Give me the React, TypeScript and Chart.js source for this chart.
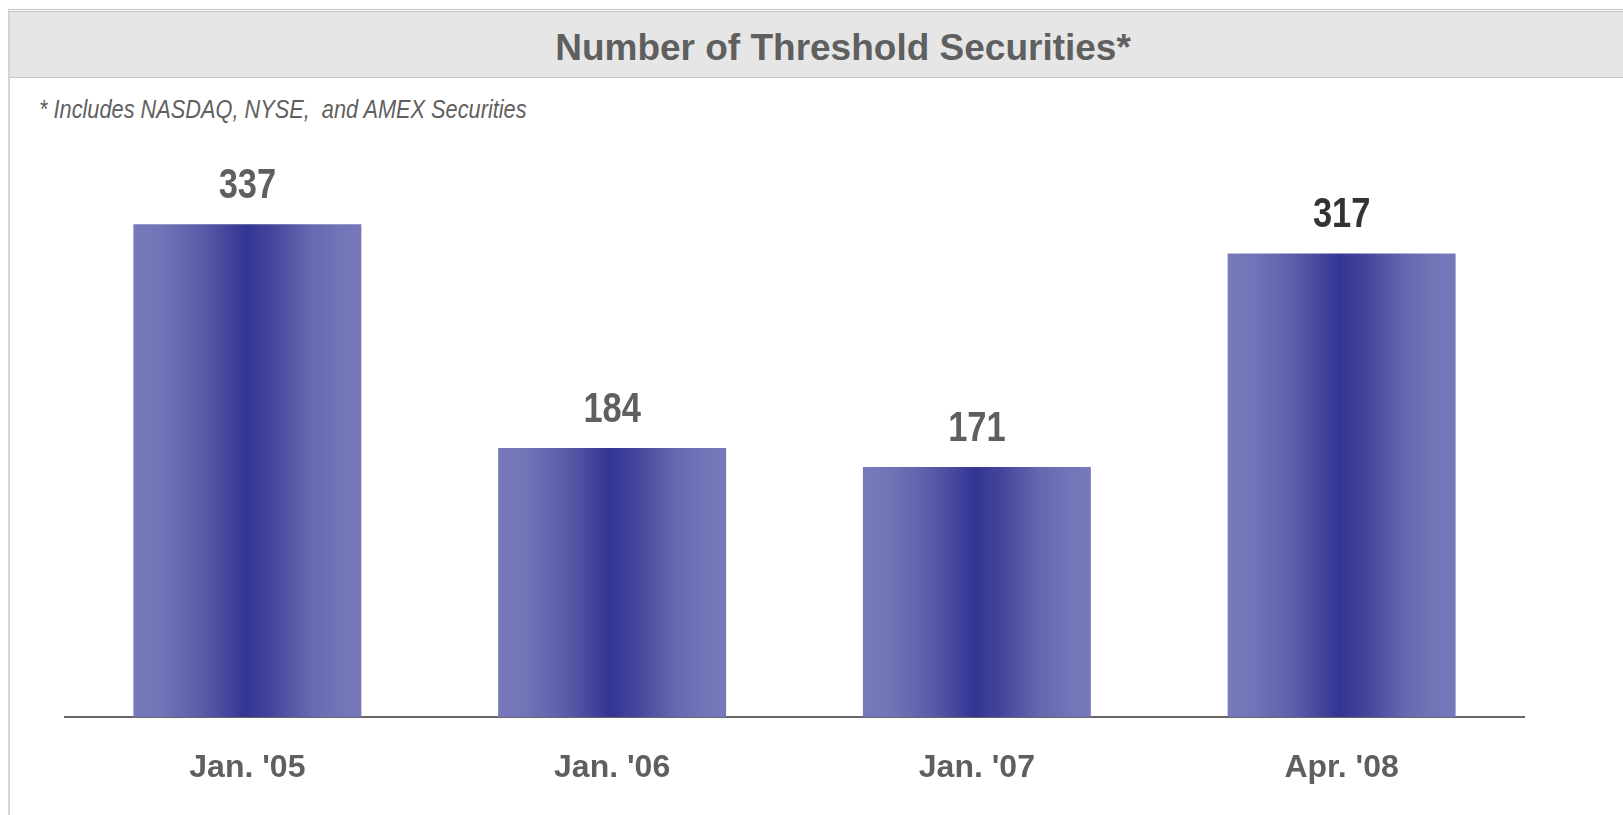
import React, { useEffect, useRef } from "react";
import { Chart, registerables } from "chart.js";

Chart.register(...registerables);

const categories: string[] = ["Jan. '05", "Jan. '06", "Jan. '07", "Apr. '08"];
const thresholdCounts: number[] = [337, 184, 171, 317];
const valueLabelColors: string[] = ["#5f5f5f", "#5f5f5f", "#5f5f5f", "#333333"];
const titleText = "Number of Threshold Securities*";
const subtitleText = "* Includes NASDAQ, NYSE,  and AMEX Securities";

const SANS = "'Liberation Sans', Arial, sans-serif";
const BAR_PCT = 0.625;
const NARROW_SCALE = 0.82;
const SUBTITLE_SCALE = 0.87;

const gradientStops: [number, string][] = [
  [0, "#7779bb"],
  [0.12, "#7274b8"],
  [0.3, "#5a5ca8"],
  [0.49, "#333594"],
  [0.6, "#42449b"],
  [0.78, "#6668b0"],
  [0.9, "#7274b8"],
  [1, "#7779bb"],
];

const valueLabelPlugin = {
  id: "valueLabels",
  afterDatasetsDraw(chart: any) {
    const ctx = chart.ctx;
    const meta = chart.getDatasetMeta(0);
    const data = chart.data.datasets[0].data as number[];
    meta.data.forEach((el: any, i: number) => {
      ctx.save();
      ctx.font = `bold 42px ${SANS}`;
      ctx.textAlign = "center";
      ctx.textBaseline = "alphabetic";
      ctx.fillStyle = valueLabelColors[i];
      ctx.translate(el.x, el.y - 26);
      ctx.scale(NARROW_SCALE, 1);
      ctx.fillText(String(data[i]), 0, 0);
      ctx.restore();
    });
  },
};

export default function App() {
  const canvasRef = useRef<HTMLCanvasElement | null>(null);

  useEffect(() => {
    if (!canvasRef.current) return;
    const chart = new Chart(canvasRef.current, {
      type: "bar",
      data: {
        labels: categories,
        datasets: [
          {
            data: thresholdCounts,
            barPercentage: BAR_PCT,
            categoryPercentage: 1,
            borderWidth: 0,
            backgroundColor: (c: any) => {
              const chart = c.chart;
              const xs = chart.scales?.x;
              if (!xs || !chart.chartArea || c.dataIndex === undefined) return "#5556a8";
              const center = xs.getPixelForValue(c.dataIndex);
              const half = (xs.width / categories.length) * BAR_PCT / 2;
              if (!isFinite(center) || !isFinite(half) || half <= 0) return "#5556a8";
              const g = chart.ctx.createLinearGradient(center - half, 0, center + half, 0);
              gradientStops.forEach(([o, col]) => g.addColorStop(o, col));
              return g;
            },
          },
        ],
      },
      options: {
        responsive: false,
        animation: false,
        devicePixelRatio: 1,
        layout: { padding: { left: 65, right: 99, top: 132, bottom: 0 } },
        plugins: {
          legend: { display: false },
          tooltip: { enabled: false },
          title: { display: false },
        },
        scales: {
          x: {
            grid: { display: false },
            border: { display: true, color: "#666666", width: 2 },
            ticks: {
              color: "#5f5f5f",
              padding: 24,
              font: { family: SANS, size: 32, weight: "bold" },
            },
            afterFit: (scale: any) => {
              scale.height = 98;
            },
          },
          y: {
            display: false,
            min: 0,
            max: 400,
          },
        },
      },
      plugins: [valueLabelPlugin],
    });
    return () => chart.destroy();
  }, []);

  return (
    <div
      style={{
        position: "absolute",
        left: 0,
        top: 0,
        width: 1623,
        height: 815,
        overflow: "hidden",
        background: "#ffffff",
        fontFamily: SANS,
      }}
    >
      <div
        style={{
          position: "absolute",
          left: 8,
          top: 9,
          width: 1700,
          height: 900,
          borderLeft: "2px solid #d4d4d4",
          borderTop: "3px double #c4c4c4",
          boxSizing: "border-box",
          background: "#ffffff",
        }}
      />
      <div
        style={{
          position: "absolute",
          left: 10,
          top: 12,
          width: 1700,
          height: 66,
          background: "#e6e6e6",
          borderBottom: "1px solid #c4c4c4",
          boxSizing: "border-box",
        }}
      />
      <div
        style={{
          position: "absolute",
          left: 843,
          top: 29,
          transform: "translateX(-50%)",
          whiteSpace: "nowrap",
          font: `bold 37px ${SANS}`,
          lineHeight: "37px",
          color: "#5f5f5f",
        }}
      >
        {titleText}
      </div>
      <div
        style={{
          position: "absolute",
          left: 39,
          top: 97,
          whiteSpace: "pre",
          fontFamily: SANS,
          fontStyle: "italic",
          fontSize: 25,
          lineHeight: "25px",
          color: "#5f5f5f",
          transform: `scaleX(${SUBTITLE_SCALE})`,
          transformOrigin: "0 0",
        }}
      >
        {subtitleText}
      </div>
      <canvas
        ref={canvasRef}
        width={1623}
        height={815}
        style={{ position: "absolute", left: 0, top: 0, width: 1623, height: 815 }}
      />
    </div>
  );
}
